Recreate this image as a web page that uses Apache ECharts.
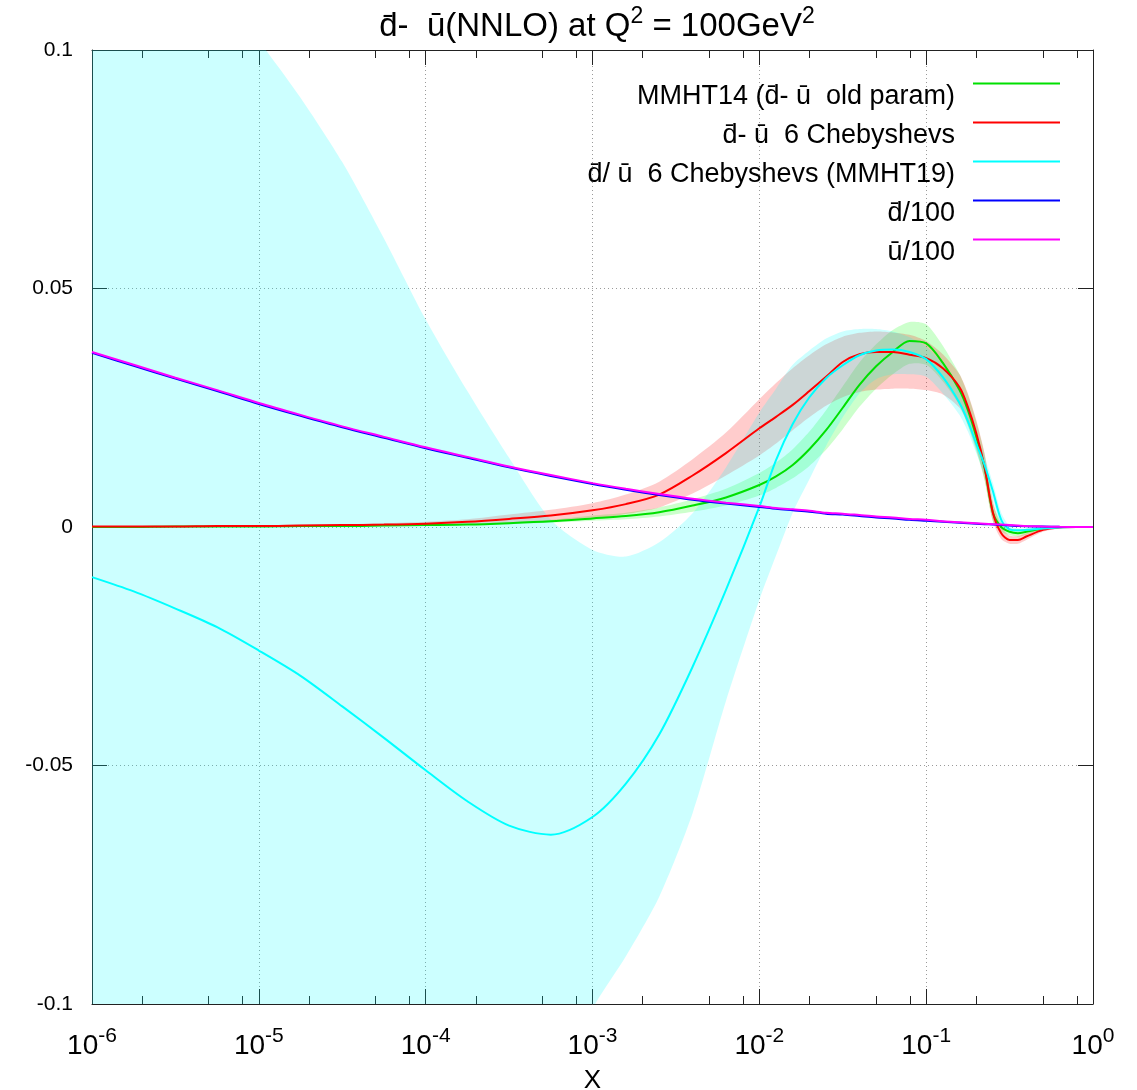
<!DOCTYPE html>
<html>
<head>
<meta charset="utf-8">
<script src="https://cdn.jsdelivr.net/npm/echarts@6/dist/echarts.min.js"></script>
<style>
  html, body { margin: 0; padding: 0; background: #fff; }
  #chart { width: 1137px; height: 1090px; }
</style>
</head>
<body>
<div id="chart"></div>
<script>
// x positions as log10(x)
const LOG_X = [-6, -5.75, -5.5, -5.25, -5, -4.75, -4.5, -4.25, -4, -3.75, -3.5, -3.25, -3,
  -2.8, -2.6, -2.4, -2.2, -2,
  -1.9, -1.8, -1.7, -1.6, -1.5, -1.4, -1.3, -1.2, -1.1, -1, -0.9, -0.8,
  -0.75, -0.7, -0.65, -0.6, -0.55, -0.5, -0.45, -0.4,
  -0.3, -0.2, -0.1, 0];

// MMHT14 (dbar - ubar, old parametrisation): central value and error band
const MMHT14 = [0, 0, 0.0001, 0.0001, 0.0001, 0.0002, 0.0002, 0.0003, 0.0004, 0.0005, 0.0008, 0.0012, 0.0018,
  0.0023, 0.0031, 0.0045, 0.0062, 0.0088,
  0.0106, 0.0130, 0.0163, 0.0203, 0.0250, 0.0298, 0.0337, 0.0367, 0.0390, 0.0385, 0.0344, 0.0287,
  0.0245, 0.0190, 0.0124, 0.0030, 0.0000, -0.0010, -0.0013, -0.0010,
  -0.0003, 0, 0, 0];
const MMHT14_LO = [0, 0, 0, 0, 0, 0.0001, 0.0001, 0.0002, 0.0003, 0.0004, 0.0006, 0.0009, 0.0013,
  0.0016, 0.0022, 0.0032, 0.0045, 0.0066,
  0.0082, 0.0102, 0.0128, 0.0162, 0.0205, 0.0252, 0.0290, 0.0320, 0.0342, 0.0340, 0.0305, 0.0255,
  0.0212, 0.0160, 0.0098, 0.0012, -0.0010, -0.0017, -0.0020, -0.0016,
  -0.0006, -0.0001, 0, 0];
const MMHT14_HI = [0.0001, 0.0001, 0.0001, 0.0002, 0.0002, 0.0003, 0.0003, 0.0004, 0.0005, 0.0007, 0.0010, 0.0015, 0.0024,
  0.0030, 0.0041, 0.0058, 0.0080, 0.0113,
  0.0135, 0.0163, 0.0200, 0.0245, 0.0295, 0.0345, 0.0383, 0.0413, 0.0430, 0.0425, 0.0380, 0.0320,
  0.0278, 0.0222, 0.0152, 0.0050, 0.0010, -0.0003, -0.0006, -0.0004,
  0, 0.0001, 0, 0];

// dbar - ubar with 6 Chebyshevs
const CHEB6 = [0.0001, 0.0001, 0.0001, 0.0002, 0.0002, 0.0003, 0.0004, 0.0005, 0.0007, 0.0011, 0.0017, 0.0024, 0.0035,
  0.0048, 0.0068, 0.0108, 0.0155, 0.0207,
  0.0231, 0.0256, 0.0285, 0.0315, 0.0346, 0.0362, 0.0367, 0.0367, 0.0361, 0.0354, 0.0333, 0.0293,
  0.0252, 0.0197, 0.0126, 0.0030, -0.0013, -0.0027, -0.0027, -0.0020,
  -0.0006, -0.0001, 0, 0];
const CHEB6_LO = [0, 0, 0, 0.0001, 0.0001, 0.0001, 0.0002, 0.0002, 0.0003, 0.0005, 0.0008, 0.0013, 0.0017,
  0.0027, 0.0041, 0.0070, 0.0108, 0.0150,
  0.0175, 0.0203, 0.0230, 0.0254, 0.0272, 0.0283, 0.0288, 0.0290, 0.0290, 0.0287, 0.0278, 0.0250,
  0.0215, 0.0165, 0.0100, 0.0012, -0.0025, -0.0035, -0.0035, -0.0027,
  -0.0010, -0.0003, -0.0001, 0];
const CHEB6_HI = [0.0002, 0.0002, 0.0002, 0.0003, 0.0003, 0.0005, 0.0006, 0.0008, 0.0011, 0.0016, 0.0026, 0.0036, 0.0050,
  0.0068, 0.0095, 0.0142, 0.0198, 0.0268,
  0.0302, 0.0333, 0.0360, 0.0383, 0.0399, 0.0407, 0.0410, 0.0408, 0.0403, 0.0390, 0.0362, 0.0320,
  0.0280, 0.0225, 0.0155, 0.0055, 0.0000, -0.0018, -0.0019, -0.0013,
  -0.0002, 0.0001, 0.0001, 0];

// MMHT19 (dbar/ubar with 6 Chebyshevs)
const MMHT19 = [-0.0105, -0.0135, -0.0171, -0.0210, -0.0259, -0.0312, -0.0376, -0.0442, -0.0510, -0.0575, -0.0626, -0.0645, -0.0608,
  -0.0538, -0.0435, -0.0293, -0.0132, 0.0042,
  0.0140, 0.0216, 0.0272, 0.0312, 0.0339, 0.0360, 0.0370, 0.0372, 0.0367, 0.0352, 0.0314, 0.0260,
  0.0222, 0.0175, 0.0130, 0.0075, 0.0015, -0.0005, -0.0007, -0.0006,
  -0.0003, -0.0001, 0, 0];
const MMHT19_LO = [-0.25, -0.24, -0.23, -0.22, -0.21, -0.20, -0.19, -0.18, -0.17, -0.155, -0.14, -0.12, -0.101,
  -0.090, -0.0775, -0.060, -0.0365, -0.0153,
  -0.0060, 0.0030, 0.0100, 0.0170, 0.0230, 0.0280, 0.0310, 0.0320, 0.0320, 0.0315, 0.0280, 0.0235,
  0.0200, 0.0155, 0.0110, 0.0058, 0.0000, -0.0012, -0.0011, -0.0009,
  -0.0005, -0.0002, 0, 0];
const MMHT19_HI = [0.15, 0.14, 0.127, 0.114, 0.102, 0.090, 0.0765, 0.0605, 0.0435, 0.0285, 0.0145, 0.0015, -0.0048,
  -0.0062, -0.0032, 0.0029, 0.0125, 0.0240,
  0.0290, 0.0340, 0.0370, 0.0395, 0.0410, 0.0415, 0.0415, 0.0410, 0.0398, 0.0378, 0.0340, 0.0285,
  0.0245, 0.0195, 0.0148, 0.0092, 0.0030, 0.0002, -0.0003, -0.0003,
  -0.0001, 0, 0, 0];

// dbar/100 and ubar/100
const DBAR_100 = [0.0365, 0.0338, 0.0311, 0.0285, 0.0258, 0.0233, 0.0209, 0.0187, 0.0165, 0.0145, 0.0125, 0.0107, 0.0090,
  0.0078, 0.0067, 0.0057, 0.0049, 0.0042,
  0.0038, 0.0035, 0.0032, 0.0028, 0.0026, 0.0023, 0.0020, 0.0018, 0.0015, 0.0013, 0.0011, 0.0009,
  0.0008, 0.0007, 0.0006, 0.0005, 0.0004, 0.0003, 0.0002, 0.00015,
  0.00008, 0.00003, 0.00001, 0];
const UBAR_100 = [0.0367, 0.0340, 0.0313, 0.0287, 0.0260, 0.0235, 0.0211, 0.0189, 0.0167, 0.0147, 0.0127, 0.0109, 0.0092,
  0.0080, 0.0069, 0.0059, 0.0051, 0.0044,
  0.0040, 0.0037, 0.0034, 0.0030, 0.0028, 0.0025, 0.0022, 0.0020, 0.0017, 0.0015, 0.0012, 0.0010,
  0.0009, 0.0008, 0.0007, 0.0006, 0.0005, 0.0004, 0.0003, 0.0002,
  0.0001, 0.00004, 0.00001, 0];

// axis ticks
const X_DECADES = [-6, -5, -4, -3, -2, -1, 0];
const MINOR_MULTIPLES = [2, 5, 8];

const NAMES = [
  'MMHT14 (d\u0304- \u016B  old param)',
  'd\u0304- \u016B  6 Chebyshevs',
  'd\u0304/ \u016B  6 Chebyshevs (MMHT19)',
  'd\u0304/100',
  '\u016B/100'
];

const FONT = "'Liberation Sans', Arial, Helvetica, sans-serif";

const minorTicks = [];
X_DECADES.slice(0, -1).forEach(d => MINOR_MULTIPLES.forEach(m => minorTicks.push(d + Math.log10(m))));

const pairs = arr => LOG_X.map((x, i) => [x, arr[i]]);

// filled uncertainty band between lo and hi, drawn as one polygon in data coordinates
function band(lo, hi, color) {
  return {
    type: 'custom', silent: true, z: 2,
    data: LOG_X.map((x, i) => [x, lo[i], hi[i]]),
    encode: { x: 0, y: [1, 2] },
    renderItem: (params, api) => {
      if (params.dataIndexInside !== 0) return null;
      const n = params.dataInsideLength;
      const upper = [], lower = [];
      for (let i = 0; i < n; i++) {
        upper.push(api.coord([api.value(0, i), api.value(2, i)]));
        lower.push(api.coord([api.value(0, i), api.value(1, i)]));
      }
      const cs = params.coordSys;
      return {
        type: 'polygon',
        shape: { points: upper.concat(lower.reverse()), smooth: 0.25 },
        style: { fill: color, stroke: null },
        clipPath: { type: 'rect', shape: { x: cs.x, y: cs.y, width: cs.width, height: cs.height } }
      };
    }
  };
}

function curve(name, arr, color, smooth) {
  return {
    name: name, type: 'line', data: pairs(arr), symbol: 'none', smooth: smooth,
    color: color, lineStyle: { color: color, width: 2 }, z: 2
  };
}

const frameColor = '#222';
const gridLine = { show: true, lineStyle: { color: '#9a9a9a', width: 1, type: [1, 3] } };

const xBase = {
  type: 'value', min: -6, max: 0, interval: 1,
  axisLine: { show: true, onZero: false, lineStyle: { color: frameColor, width: 1 } },
  splitLine: { show: false }, axisLabel: { show: false }
};
const yBase = {
  type: 'value', min: -0.1, max: 0.1, interval: 0.05,
  axisLine: { show: true, onZero: false, lineStyle: { color: frameColor, width: 1 } },
  splitLine: { show: false }, axisLabel: { show: false }
};

const option = {
  animation: false,
  backgroundColor: '#fff',
  textStyle: { fontFamily: FONT },
  title: {
    text: 'd\u0304-  \u016B(NNLO) at Q{s|2} = 100GeV{s|2}',
    left: 592, top: 0, textAlign: 'center',
    textStyle: {
      fontFamily: FONT, fontSize: 33, fontWeight: 'normal', color: '#000', lineHeight: 44,
      rich: { s: { fontFamily: FONT, fontSize: 23, lineHeight: 23, verticalAlign: 'top', color: '#000' } }
    }
  },
  legend: {
    data: NAMES, orient: 'vertical', align: 'right', right: 77, top: 57, padding: 0,
    icon: 'rect', itemWidth: 87, itemHeight: 2, itemGap: -14, selectedMode: false,
    formatter: n => '{t|' + n + '}',
    textStyle: {
      color: '#000',
      rich: { t: { fontFamily: FONT, fontSize: 27, lineHeight: 27, color: '#000', padding: [26, 13, 0, 0] } }
    }
  },
  grid: { left: 92, right: 44, top: 50, bottom: 86, containLabel: false, outerBoundsMode: 'none' },
  xAxis: [
    Object.assign({}, xBase, {
      position: 'bottom',
      axisTick: { show: true, inside: true, length: 15, lineStyle: { color: frameColor } },
      splitLine: gridLine,
      axisLabel: {
        show: true, margin: 22, color: '#000',
        formatter: v => '{b|10}{e|' + v + '}',
        rich: {
          b: { fontFamily: FONT, fontSize: 28, lineHeight: 40, color: '#000' },
          e: { fontFamily: FONT, fontSize: 21, lineHeight: 21, verticalAlign: 'top', color: '#000' }
        }
      },
      name: 'X', nameLocation: 'middle', nameGap: 64,
      nameTextStyle: { fontFamily: FONT, fontSize: 26, color: '#000' }
    }),
    Object.assign({}, xBase, {
      position: 'bottom', axisLine: { show: false, onZero: false },
      axisTick: { show: true, inside: true, length: 8, customValues: minorTicks, lineStyle: { color: frameColor } }
    }),
    Object.assign({}, xBase, {
      position: 'top',
      axisTick: { show: true, inside: true, length: 15, lineStyle: { color: frameColor } }
    }),
    Object.assign({}, xBase, {
      position: 'top', axisLine: { show: false, onZero: false },
      axisTick: { show: true, inside: true, length: 8, customValues: minorTicks, lineStyle: { color: frameColor } }
    })
  ],
  yAxis: [
    Object.assign({}, yBase, {
      position: 'left',
      axisTick: { show: true, inside: true, length: 15, lineStyle: { color: frameColor } },
      splitLine: gridLine,
      axisLabel: { show: true, margin: 19, fontFamily: FONT, fontSize: 21, color: '#000' }
    }),
    Object.assign({}, yBase, {
      position: 'right',
      axisTick: { show: true, inside: true, length: 15, lineStyle: { color: frameColor } }
    })
  ],
  series: [
    band(MMHT14_LO, MMHT14_HI, 'rgba(0,255,0,0.2)'),
    curve(NAMES[0], MMHT14, '#00e000', 0.3),
    band(CHEB6_LO, CHEB6_HI, 'rgba(255,0,0,0.2)'),
    curve(NAMES[1], CHEB6, '#ff0000', 0.3),
    band(MMHT19_LO, MMHT19_HI, 'rgba(0,255,255,0.2)'),
    curve(NAMES[2], MMHT19, '#00ffff', 0.3),
    curve(NAMES[3], DBAR_100, '#0000ff', 0.3),
    curve(NAMES[4], UBAR_100, '#ff00ff', 0.3)
  ]
};

const chart = echarts.init(document.getElementById('chart'), null, { renderer: 'canvas' });
chart.setOption(option);
</script>
</body>
</html>
